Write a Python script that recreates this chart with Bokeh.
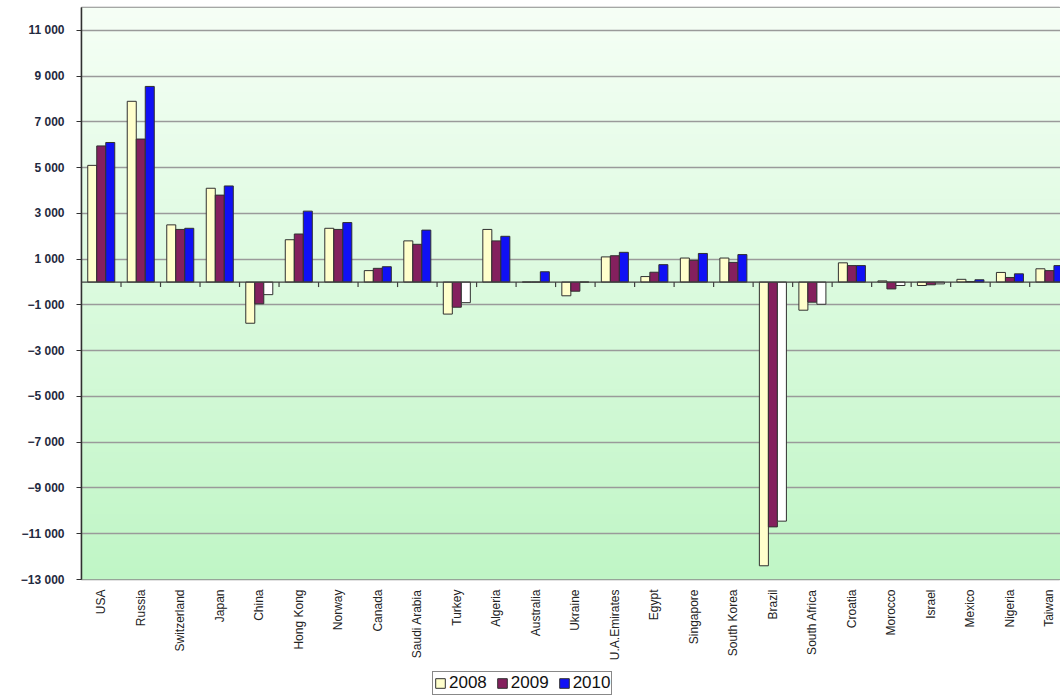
import math
import numpy as np
from bokeh.plotting import figure
from bokeh.layouts import column
from bokeh.models import (ColumnDataSource, FixedTicker, Span, Legend, LegendItem, Range1d)
from bokeh.embed import file_html
from bokeh.resources import INLINE

categories = ["USA", "Russia", "Switzerland", "Japan", "China", "Hong Kong", "Norway",
              "Canada", "Saudi Arabia", "Turkey", "Algeria", "Australia", "Ukraine",
              "U.A.Emirates", "Egypt", "Singapore", "South Korea", "Brazil", "South Africa",
              "Croatia", "Morocco", "Israel", "Mexico", "Nigeria", "Taiwan"]
v2008 = [5100, 7900, 2500, 4100, -1800, 1850, 2350, 500, 1800, -1400, 2300, 0, -600,
         1100, 240, 1050, 1050, -12400, -1230, 840, 50, -150, 120, 420, 580]
v2009 = [5950, 6250, 2300, 3800, -950, 2100, 2300, 600, 1650, -1100, 1800, 0, -400,
         1150, 430, 950, 860, -10700, -880, 720, -300, -120, 20, 200, 500]
v2010 = [6100, 8550, 2350, 4200, -550, 3100, 2600, 670, 2270, -900, 2000, 450, 0,
         1300, 760, 1250, 1200, -10450, -970, 720, -150, -80, 100, 360, 720]
years = ["2008", "2009", "2010"]
y_ticks = list(range(-13000, 11001, 2000))

colors = {"2008": "#ffffcc", "2009": "#84205e", "2010": "#1010f5"}
neg_color_2010 = "#ffffff"
outline = "#303030"

p = figure(width=1060, height=670, output_backend="svg", toolbar_location=None,
           x_range=Range1d(-0.5, 24.28), y_range=Range1d(-13000, 12000),
           min_border_left=81, min_border_right=0, min_border_top=7, min_border_bottom=91,
           background_fill_color="#e6fbe6", border_fill_color="white")

# background gradient of the plot area
n = 256
t = np.linspace(0, 1, n).reshape(n, 1)  # bottom -> top
top_c = np.array([246, 255, 246])
bot_c = np.array([192, 246, 198])
rgb = bot_c * (1 - t) + top_c * t
img = np.zeros((n, 2), dtype=np.uint32)
view = img.view(dtype=np.uint8).reshape((n, 2, 4))
for j in range(2):
    view[:, j, 0] = rgb[:, 0].astype(np.uint8)
    view[:, j, 1] = rgb[:, 1].astype(np.uint8)
    view[:, j, 2] = rgb[:, 2].astype(np.uint8)
    view[:, j, 3] = 255
bg = p.image_rgba(image=[img], x=-0.5, y=-13000, dw=len(categories) + 1, dh=25000)
bg.level = "image"

idx = np.arange(len(categories))
bw = 0.228
offsets = [-bw, 0.0, bw]
series = [v2008, v2009, v2010]
for yr, off, vals in zip(years, offsets, series):
    if yr == "2010":
        fills = [colors[yr] if v >= 0 else neg_color_2010 for v in vals]
    else:
        fills = [colors[yr]] * len(vals)
    src = ColumnDataSource(dict(x=idx + off, top=vals, fill=fills))
    p.vbar(x="x", top="top", bottom=0, width=bw, source=src, fill_color="fill",
           line_color=outline, line_width=1)

# category axis line at zero with tick marks between categories
p.add_layout(Span(location=0, dimension="width", line_color="#404040", line_width=1.2))
p.ray(x=idx + 0.5, y=[0] * len(idx), length=5, length_units="screen", angle=-math.pi / 2,
      line_color="#404040", line_width=1.2)

# axes
p.xaxis.ticker = FixedTicker(ticks=list(idx))
p.xaxis.major_label_overrides = {int(i): c for i, c in zip(idx, categories)}
p.xaxis.major_label_orientation = math.pi / 2
p.xaxis.major_tick_line_color = None
p.xaxis.minor_tick_line_color = None
p.xaxis.axis_line_color = None
p.xaxis.major_label_text_font = "Liberation Sans"
p.xaxis.major_label_text_font_size = "12px"
p.xaxis.major_label_text_color = "#222222"
p.xaxis.major_label_standoff = 4

p.yaxis.ticker = FixedTicker(ticks=y_ticks)
p.yaxis.major_label_overrides = {
    v: ("\u2212" if v < 0 else "") + f"{abs(v):,}".replace(",", " ") for v in y_ticks}
p.yaxis.major_label_text_font = "Liberation Sans"
p.yaxis.major_label_text_font_style = "bold"
p.yaxis.major_label_text_font_size = "12px"
p.yaxis.major_label_text_color = "#1f2a40"
p.yaxis.axis_line_color = "#303030"
p.yaxis.axis_line_width = 1.5
p.yaxis.major_tick_line_color = "#303030"
p.yaxis.major_tick_out = 5
p.yaxis.major_tick_in = 0
p.yaxis.minor_tick_line_color = None
p.yaxis.major_label_standoff = 12

p.xgrid.grid_line_color = None
p.ygrid.ticker = FixedTicker(ticks=y_ticks)
p.ygrid.grid_line_color = "#9a9a9a"
p.ygrid.grid_line_width = 1.5

p.outline_line_color = "#8a8a8a"
p.outline_line_width = 1.5

# legend strip below the chart (its frame is aligned with the chart frame by the column)
lg = figure(width=1060, height=30, output_backend="svg", toolbar_location=None,
            x_range=Range1d(0, 1), y_range=Range1d(0, 1), min_border=0,
            x_axis_location=None, y_axis_location=None,
            background_fill_color="white", border_fill_color="white")
lg.grid.grid_line_color = None
lg.outline_line_color = None
items = []
for yr in years:
    # swatch source placed outside the visible range; only the legend glyph shows
    r = lg.vbar(x=[5], top=[5], bottom=[4], width=0.1, fill_color=colors[yr], line_color=outline)
    items.append(LegendItem(label=yr, renderers=[r]))
legend = Legend(items=items, orientation="horizontal", location=(351, 5),
                label_text_font="Liberation Sans", label_text_font_size="17px",
                label_text_color="#111111",
                glyph_width=12, glyph_height=12, label_standoff=3, spacing=9,
                padding=1, margin=0, border_line_color="#111111", border_line_width=1,
                background_fill_color="white", background_fill_alpha=1.0,
                label_height=16)
lg.add_layout(legend, "center")

layout = column(p, lg, spacing=0)
open("out.html", "w").write(file_html(layout, INLINE))
